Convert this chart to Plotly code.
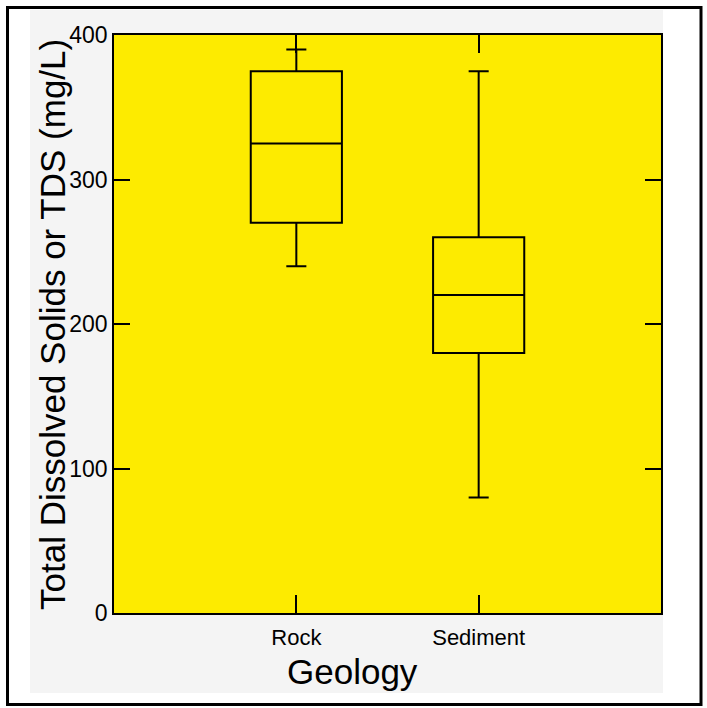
import plotly.graph_objects as go

# ---- data ----
categories = ["Rock", "Sediment"]
q1 = [270, 180]
median = [325, 220]
q3 = [375, 260]
lower_whisker = [240, 80]
upper_whisker = [390, 375]
y_ticks = [0, 100, 200, 300, 400]
x_title = "Geology"
y_title = "Total Dissolved Solids or TDS (mg/L)"

# ---- layout geometry (pixels) ----
W, H = 707, 708
L, R, T, B = 114, 46, 35, 95
PW, PH = W - L - R, H - T - B

def px(x):
    return (x - L) / PW

def py(y):
    return (H - B - y) / PH

YELLOW = "#FDEB00"
FONT = "Liberation Sans, Arial, Helvetica, sans-serif"

fig = go.Figure()
for i, cat in enumerate(categories):
    fig.add_trace(go.Box(
        x=[cat], q1=[q1[i]], median=[median[i]], q3=[q3[i]],
        lowerfence=[lower_whisker[i]], upperfence=[upper_whisker[i]],
        width=0.5, whiskerwidth=0.22,
        line=dict(color="black", width=2),
        fillcolor="rgba(0,0,0,0)",
        boxpoints=False, showlegend=False, hoverinfo="skip",
    ))

shapes = [
    # scanned light-grey page area
    dict(type="rect", xref="paper", yref="paper", layer="below",
         x0=px(30), x1=px(663), y0=py(693), y1=py(10),
         fillcolor="#F4F4F4", line=dict(width=0)),
    # yellow plot area
    dict(type="rect", xref="paper", yref="paper", layer="below",
         x0=0, x1=1, y0=0, y1=1, fillcolor=YELLOW, line=dict(width=0)),
    # outer black frame
    dict(type="rect", xref="paper", yref="paper", layer="below",
         x0=px(7.5), x1=px(701), y0=py(704.5), y1=py(7.5),
         fillcolor="rgba(0,0,0,0)", line=dict(color="black", width=3)),
]

annotations = [
    dict(text=x_title, xref="paper", yref="paper", x=px(352), y=py(672),
         xanchor="center", yanchor="middle", showarrow=False,
         font=dict(size=35, family=FONT, color="black")),
    dict(text=y_title, xref="paper", yref="paper", x=px(52), y=py(325),
         xanchor="center", yanchor="middle", showarrow=False, textangle=-90,
         font=dict(size=35, family=FONT, color="black")),
]

fig.update_layout(
    width=W, height=H,
    margin=dict(l=L, r=R, t=T, b=B, pad=0),
    paper_bgcolor="white",
    plot_bgcolor=YELLOW,
    font=dict(family=FONT, color="black"),
    shapes=shapes,
    annotations=annotations,
    xaxis=dict(
        type="category", categoryorder="array", categoryarray=categories,
        range=[-1, 2], showgrid=False, zeroline=False,
        showline=True, linecolor="black", linewidth=1.5, mirror="ticks",
        ticks="inside", ticklen=18, tickwidth=1.5, tickcolor="black",
        tickfont=dict(size=22, family=FONT, color="black"),
        ticklabelstandoff=4,
    ),
    yaxis=dict(
        range=[0, 400], tickvals=y_ticks, showgrid=False, zeroline=False,
        showline=True, linecolor="black", linewidth=1.5, mirror="ticks",
        ticks="inside", ticklen=16, tickwidth=1.5, tickcolor="black",
        tickfont=dict(size=23, family=FONT, color="black"),
    ),
)

fig.write_html(
    "out.html",
    config={"displayModeBar": False},
    post_script="document.body.style.margin='0';document.body.style.padding='0';",
)
